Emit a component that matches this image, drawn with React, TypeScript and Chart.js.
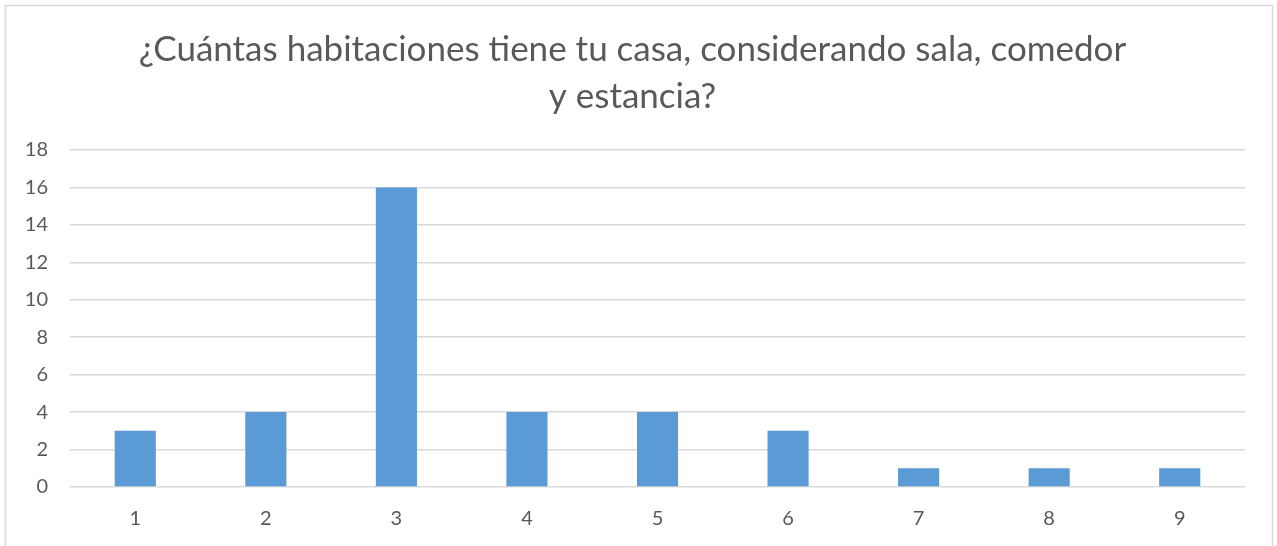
import React, { useEffect, useRef } from "react";
import { Chart, registerables } from "chart.js";

Chart.register(...registerables);

const categories = ["1", "2", "3", "4", "5", "6", "7", "8", "9"];
const counts = [3, 4, 16, 4, 4, 3, 1, 1, 1];
const titleLines = [
  "¿Cuántas habitaciones tiene tu casa, considerando sala, comedor",
  "y estancia?",
];

const frame = {
  id: "frame",
  beforeDraw(chart: any) {
    const ctx = chart.ctx;
    ctx.save();
    ctx.fillStyle = "#ffffff";
    ctx.fillRect(0, 0, chart.width, chart.height);
    ctx.strokeStyle = "#d9d9d9";
    ctx.lineWidth = 1.5;
    ctx.strokeRect(5.5, 5.5, 1267, 600);
    ctx.restore();
  },
};

export default function App() {
  const ref = useRef<HTMLCanvasElement | null>(null);
  useEffect(() => {
    document.body.style.margin = "0";
    const chart = new Chart(ref.current!, {
      type: "bar",
      data: {
        labels: categories,
        datasets: [
          {
            data: counts,
            backgroundColor: "#5b9bd5",
            barPercentage: 0.315,
            categoryPercentage: 1,
          },
        ],
      },
      plugins: [frame],
      options: {
        animation: false,
        responsive: false,
        layout: { padding: { left: 20, right: 32, top: 0, bottom: 19 } },
        plugins: {
          legend: { display: false },
          tooltip: { enabled: false },
          title: {
            display: true,
            text: titleLines,
            color: "#595959",
            font: { family: "Lato", size: 35, weight: "normal", lineHeight: 1.343 },
            padding: { top: 26, bottom: 30 },
          },
        },
        scales: {
          x: {
            grid: { display: false, drawTicks: false },
            border: { display: false },
            ticks: {
              color: "#595959",
              font: { family: "Lato", size: 20 },
              padding: 20,
            },
            afterFit(s: any) {
              s.height = 40;
            },
          },
          y: {
            min: 0,
            max: 18,
            ticks: {
              stepSize: 2,
              color: "#595959",
              font: { family: "Lato", size: 20 },
              padding: 22,
            },
            grid: { color: "#d9d9d9", lineWidth: 1.5, drawTicks: false },
            border: { display: false },
            afterFit(s: any) {
              s.width = 50;
            },
          },
        },
      },
    });
    return () => chart.destroy();
  }, []);
  return (
    <div style={{ width: 1277, height: 546, overflow: "hidden" }}>
      <canvas ref={ref} width={1277} height={546} />
    </div>
  );
}
